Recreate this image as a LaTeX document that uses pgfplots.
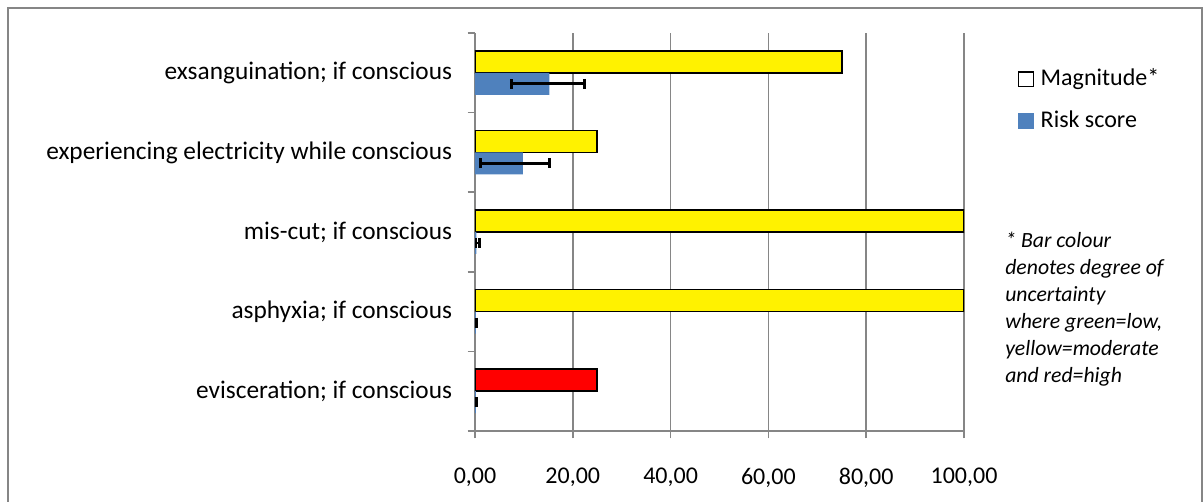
\documentclass[border=0pt]{standalone}
\usepackage{fontspec}
\setmainfont{Carlito}
\usepackage{pgfplots}
\pgfplotsset{compat=1.18}
\definecolor{riskblue}{HTML}{4F81BD}
\definecolor{axgray}{HTML}{868686}
\pgfplotstableread{
y x ep em
0 0.2 0.1 0.1
1 0.2 0.1 0.1
2 0.3 0.6 0.1
3 9.8 5.4 8.6
4 15.2 7.2 7.7
}\risk
\begin{document}
\fontsize{18pt}{21.6pt}\selectfont
\begin{tikzpicture}
\useasboundingbox (0,0) rectangle (902.25pt,376.5pt);
\draw[axgray, line width=1.5pt] (6pt,-2pt) -- (6pt,370.5pt) -- (901.5pt,370.5pt) -- (901.5pt,-2pt);
\begin{axis}[
 at={(356.25pt,53.25pt)}, anchor=south west,
 scale only axis, width=366.75pt, height=298.5pt,
 xmin=0, xmax=100, ymin=-0.5, ymax=4.5,
 axis lines*=left,
 axis line style={axgray, line width=1.2pt},
 xtick={0,20,...,100},
 xmajorgrids, grid style={axgray, line width=1.2pt},
 ytick={-0.5,0.5,1.5,2.5,3.5,4.5},
 yticklabels={},
 extra y ticks={0,1,2,3,4},
 extra y tick labels={evisceration; if conscious, asphyxia; if conscious, mis-cut; if conscious, experiencing electricity while conscious, exsanguination; if conscious},
 extra y tick style={major tick length=0pt, grid=none},
 tick align=outside,
 major tick length=5.5pt,
 tick style={axgray, line width=1.2pt},
 xticklabel style={yshift=-16pt, /pgf/number format/fixed, /pgf/number format/fixed zerofill, /pgf/number format/precision=2, /pgf/number format/use comma, /pgf/number format/assume math mode=true},
 yticklabel style={xshift=-11pt, font=\fontsize{19pt}{22pt}\selectfont},
 legend style={at={(1.11,0.917)}, anchor=north west, draw=none, fill=none, inner sep=0pt, row sep=12pt, column sep=3pt, legend cell align=left},
]
\addlegendimage{legend image code/.code={\draw[fill=white,draw=black,line width=1pt] (0pt,-5.5pt) rectangle (11pt,5.5pt);}}
\addlegendentry{Magnitude*}
\addlegendimage{legend image code/.code={\fill[riskblue] (0pt,-5.5pt) rectangle (11pt,5.5pt);}}
\addlegendentry{Risk score}
\addplot[forget plot, xbar, bar width=16.5pt, bar shift=8.25pt, fill=yellow, draw=black, line width=1.2pt] coordinates {(100,1) (100,2) (25,3) (75,4)};
\addplot[forget plot, xbar, bar width=16.5pt, bar shift=8.25pt, fill=red, draw=black, line width=1.2pt] coordinates {(25,0)};
\addplot[forget plot, xbar, bar width=16.5pt, bar shift=-8.25pt, fill=riskblue, draw=none,
  error bars/.cd, x dir=both, x explicit, error mark=|,
  error bar style={draw=black, line width=2.2pt, yshift=-8.25pt},
  error mark options={draw=black, line width=2.2pt, mark size=3.75pt, yshift=-8.25pt}]
  table[x=x, y=y, x error plus=ep, x error minus=em] {\risk};
\end{axis}
\node[anchor=north west, align=left, inner sep=0pt, font=\fontsize{16.3pt}{20.25pt}\selectfont\itshape] at (753.75pt,202.5pt) {* Bar colour\\denotes degree of\\uncertainty\\where green=low,\\yellow=moderate\\and red=high};
\end{tikzpicture}
\end{document}
